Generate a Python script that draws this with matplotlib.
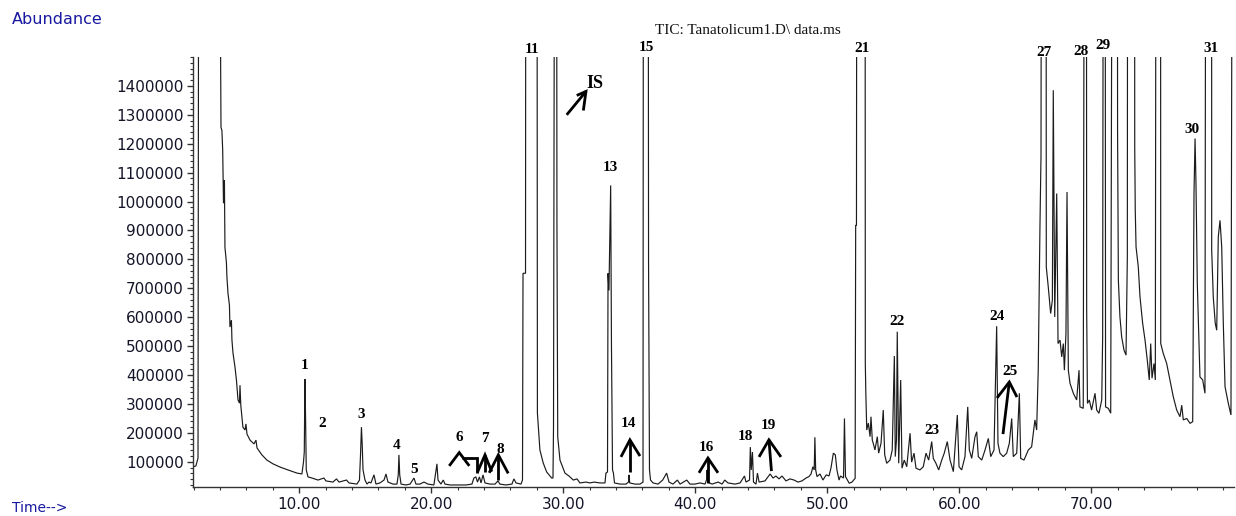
import matplotlib
matplotlib.use('Agg')
import matplotlib.pyplot as plt
from matplotlib.ticker import MultipleLocator, FixedLocator
import numpy as np

OFF = 3000  # off-scale peak top (thousands)

rt_min = [
    1.95, 2.17, 2.25, 2.33, 2.40, 3.95, 4.03, 4.07, 4.14, 4.20, 4.26, 4.33, 4.37, 4.48, 4.52, 4.60,
    4.71, 4.75, 4.86, 4.90, 4.98, 5.13, 5.24, 5.36, 5.47, 5.51, 5.57, 5.73, 5.89, 5.96, 6.04, 6.27,
    6.57, 6.72, 6.80, 7.17, 7.55, 8.01, 8.54, 9.14, 9.83, 10.20, 10.32, 10.38, 10.43, 10.48, 10.53,
    10.66, 10.96, 11.42, 11.87, 12.02, 12.55, 12.82, 13.01, 13.58, 13.77, 14.37, 14.56, 14.64, 14.71,
    14.77, 14.83, 14.98, 15.13, 15.28, 15.43, 15.66, 15.81, 16.11, 16.42, 16.57, 16.72, 17.10, 17.40,
    17.50, 17.55, 17.61, 17.71, 18.09, 18.39, 18.69, 18.84, 19.14, 19.45, 19.75, 20.20, 20.36, 20.43,
    20.51, 20.73, 20.91, 21.04, 21.42, 22.02, 22.63, 23.08, 23.23, 23.38, 23.50, 23.65, 23.77, 23.92,
    24.07, 24.45, 24.83, 25.05, 25.20, 25.66, 26.11, 26.26, 26.42, 26.80, 26.91, 26.95, 27.14, 27.17,
    28.00, 28.04, 28.23, 28.48, 28.74, 29.12, 29.22, 29.26, 29.37, 29.48, 29.52, 29.58, 29.75, 30.13,
    30.43, 30.76, 31.04, 31.26, 31.72, 32.02, 32.33, 32.78, 33.16, 33.23, 33.35, 33.39, 33.46, 33.59,
    33.65, 33.73, 33.80, 33.88, 34.30, 34.75, 34.94, 34.98, 35.03, 35.43, 35.81, 36.04, 36.08, 36.42,
    36.46, 36.53, 36.61, 36.80, 37.18, 37.53, 37.83, 38.01, 38.31, 38.64, 38.85, 39.35, 39.60, 39.98,
    40.36, 40.74, 40.85, 40.89, 40.94, 41.27, 41.73, 42.03, 42.23, 42.48, 43.01, 43.39, 43.73, 43.84,
    44.11, 44.17, 44.24, 44.33, 44.41, 44.60, 44.71, 44.83, 45.28, 45.67, 45.89, 46.11, 46.34, 46.57,
    46.87, 47.17, 47.48, 47.78, 48.08, 48.39, 48.61, 48.77, 48.91, 49.01, 49.06, 49.12, 49.22, 49.45,
    49.67, 49.92, 50.13, 50.28, 50.46, 50.61, 50.73, 50.89, 51.00, 51.23, 51.30, 51.38, 51.66, 51.87,
    52.11, 52.15, 52.21, 52.25, 52.86, 52.88, 52.92, 52.99, 53.11, 53.24, 53.31, 53.41, 53.48, 53.61,
    53.79, 53.89, 54.07, 54.24, 54.35, 54.50, 54.75, 54.92, 55.08, 55.15, 55.24, 55.30, 55.41, 55.56,
    55.66, 55.83, 56.02, 56.27, 56.39, 56.57, 56.72, 57.02, 57.27, 57.48, 57.68, 57.91, 58.03, 58.23,
    58.44, 58.67, 58.86, 59.09, 59.30, 59.55, 59.85, 59.98, 60.18, 60.43, 60.64, 60.76, 60.94, 61.19,
    61.32, 61.44, 61.70, 61.95, 62.20, 62.38, 62.63, 62.83, 62.93, 63.08, 63.33, 63.59, 63.79, 63.97,
    64.09, 64.35, 64.55, 64.65, 64.90, 65.23, 65.48, 65.73, 65.86, 65.98, 66.11, 66.19, 66.24, 66.57,
    66.59, 66.74, 66.92, 67.05, 67.12, 67.23, 67.38, 67.48, 67.63, 67.76, 67.88, 67.96, 68.08, 68.16,
    68.26, 68.39, 68.64, 68.89, 69.07, 69.14, 69.39, 69.50, 69.62, 69.65, 69.71, 69.85, 70.02, 70.28,
    70.41, 70.58, 70.79, 70.86, 70.93, 71.04, 71.08, 71.29, 71.47, 71.62, 71.97, 71.99, 72.05, 72.17,
    72.30, 72.48, 72.63, 72.73, 72.76, 73.27, 73.29, 73.33, 73.39, 73.56, 73.69, 73.89, 74.07, 74.24,
    74.39, 74.50, 74.60, 74.75, 74.85, 74.92, 75.24, 75.26, 75.45, 75.71, 75.96, 76.21, 76.47, 76.72,
    76.85, 76.97, 77.23, 77.48, 77.68, 77.78, 77.86, 77.93, 78.03, 78.14, 78.23, 78.44, 78.61, 78.69,
    79.11, 79.12, 79.24, 79.39, 79.50, 79.62, 79.75, 79.88, 80.00, 80.13, 80.38, 80.58, 80.71, 80.81,
]

abundance_k = [
    82, 86, 99, 113, OFF, OFF, 1600, 1257, 1246, 1177, 994, 1073, 842, 790, 739, 683,
    642, 566, 590, 521, 476, 428, 383, 314, 303, 365, 296, 220, 210, 231, 196, 175,
    162, 175, 148, 124, 106, 93, 82, 72, 61, 58, 99, 134, 386, 245, 72,
    48, 44, 37, 44, 34, 30, 41, 30, 37, 27, 23, 37, 124, 220,
    158, 72, 37, 23, 30, 27, 55, 23, 27, 37, 58, 30, 23, 23,
    55, 124, 55, 23, 20, 23, 44, 23, 23, 30, 23, 20, 72, 93,
    37, 23, 37, 23, 20, 20, 20, 23, 44, 48, 30, 48, 27, 55,
    27, 23, 23, 34, 23, 20, 23, 41, 27, 23, 37, 752, 752, OFF,
    OFF, 269, 141, 96, 65, 44, 44, 220, OFF, OFF, 928, 186, 106, 61,
    51, 37, 41, 27, 30, 27, 30, 27, 27, 61, 65, 752, 693, 1056,
    504, 72, 61, 27, 23, 23, 30, 55, 27, 23, 23, 30, OFF, OFF,
    790, 72, 37, 27, 23, 37, 61, 30, 23, 37, 23, 37, 23, 23,
    27, 23, 37, 72, 30, 23, 30, 23, 37, 27, 23, 27, 51, 30,
    37, 151, 72, 134, 30, 23, 61, 30, 34, 58, 44, 51, 41, 51,
    34, 41, 37, 30, 34, 44, 49, 58, 83, 72, 185, 72, 49, 58,
    37, 55, 51, 79, 130, 124, 72, 37, 51, 44, 250, 49, 26, 30,
    43, 918, 918, OFF, OFF, 440, 337, 210, 234, 187, 256, 175, 164, 141,
    187, 130, 164, 279, 124, 95, 106, 141, 466, 118, 175, 550, 95, 383,
    78, 106, 83, 199, 99, 130, 78, 72, 83, 130, 106, 170, 112, 95,
    72, 106, 130, 170, 106, 66, 262, 83, 72, 118, 290, 141, 112, 187,
    204, 118, 106, 141, 181, 118, 141, 569, 164, 130, 118, 130, 164, 250,
    118, 130, 337, 112, 106, 141, 152, 245, 210, 417, 912, 1160, OFF, OFF,
    774, 705, 613, 659, 1385, 601, 1028, 509, 521, 463, 509, 417, 544, 1033,
    417, 371, 337, 314, 417, 290, 285, OFF, OFF, 624, 302, 314, 279, 337,
    279, 268, 314, 532, OFF, OFF, 290, 285, 268, OFF, OFF, 1246, 728, 601,
    532, 486, 469, 809, OFF, OFF, 1189, 970, 843, 774, 670, 579, 521, 452,
    383, 509, 389, 440, 383, OFF, OFF, 509, 475, 440, 383, 325, 279, 256,
    296, 245, 250, 233, 239, 1028, 1218, 1062, 717, 544, 394, 383, 337, OFF,
    OFF, 832, 670, 579, 555, 878, 935, 843, 579, 360, 302, 262, OFF, OFF,
]

peak_labels = ['1', '2', '3', '4', '5', '6', '7', '8', '11', 'IS', '13', '14', '15', '16', '18',
               '19', '21', '22', '23', '24', '25', '27', '28', '29', '30', '31']
label_rt = [10.43, 11.74, 14.67, 17.38, 18.71, 22.12, 24.07, 25.20, 27.63, 32.40, 33.54, 34.90,
            36.27, 40.81, 43.80, 45.51, 52.63, 55.30, 57.91, 62.88, 63.84, 66.42, 69.22, 70.89,
            77.63, 79.07]
label_abund_k = [434, 233, 262, 155, 74, 184, 179, 144, 1526, 1409, 1118, 231, 1533, 151, 189,
                 227, 1529, 586, 208, 601, 414, 1516, 1519, 1540, 1250, 1529]

# hand-drawn arrow strokes (rt, abundance in thousands)
arrow_strokes = [
    [(30.26, 1300), (31.72, 1381)], [(31.02, 1367), (31.72, 1381), (31.52, 1315)],          # IS
    [(21.36, 86), (22.12, 132), (22.88, 86)], [(22.30, 112), (23.48, 112), (23.48, 60)],      # 6
    [(23.48, 62), (24.07, 124), (24.58, 66)], [(24.07, 124), (24.07, 66)],                    # 7
    [(24.39, 62), (25.08, 124), (25.83, 60)], [(25.08, 124), (25.08, 37)],                    # 8
    [(34.37, 117), (35.05, 176), (35.81, 120)], [(35.05, 176), (35.05, 65)],                  # 14
    [(40.28, 62), (40.96, 113), (41.72, 62)], [(40.96, 113), (40.96, 27)],                    # 16
    [(44.83, 117), (45.58, 176), (46.49, 117)], [(45.58, 176), (45.77, 68)],                  # 19
    [(62.86, 321), (63.79, 376), (64.37, 324)], [(63.79, 376), (63.31, 196)],                 # 25
]

fig = plt.figure(figsize=(12.36, 5.16), dpi=100)
ax = fig.add_axes([193 / 1236, 1 - 486.7 / 516, (1234 - 193) / 1236, (486.7 - 57) / 516])

ax.plot(rt_min, np.array(abundance_k) * 1000.0, color='#1c1c1c', lw=0.85, solid_joinstyle='miter')

for stroke in arrow_strokes:
    xs = [p[0] for p in stroke]
    ys = [p[1] * 1000.0 for p in stroke]
    ax.plot(xs, ys, color='black', lw=2.0, solid_capstyle='butt', solid_joinstyle='miter',
            clip_on=False)

for name, t, a in zip(peak_labels, label_rt, label_abund_k):
    size = 13 if name == 'IS' else 11
    ax.text(t, a * 1000.0, name, ha='center', va='center', fontsize=size,
            family='Liberation Serif', fontweight='bold', color='black', clip_on=False)

ax.set_xlim(1.95, 80.81)
ax.set_ylim(14000, 1.5e6)

ax.xaxis.set_major_locator(FixedLocator([10, 20, 30, 40, 50, 60, 70]))
ax.xaxis.set_minor_locator(MultipleLocator(2))
ax.set_xticklabels(['10.00', '20.00', '30.00', '40.00', '50.00', '60.00', '70.00'])
yt = list(range(100000, 1400001, 100000))
ax.yaxis.set_major_locator(FixedLocator(yt))
ax.yaxis.set_minor_locator(MultipleLocator(20000))
ax.set_yticklabels([str(v) for v in yt])

for sp in ['top', 'right']:
    ax.spines[sp].set_visible(False)
for sp in ['left', 'bottom']:
    ax.spines[sp].set_color('#333333')
    ax.spines[sp].set_linewidth(1.0)

ax.tick_params(axis='both', which='major', direction='out', length=4.5, width=1.0, color='#333333',
               labelsize=11, labelcolor='#141428')
ax.tick_params(axis='both', which='minor', direction='out', length=2.5, width=0.8, color='#333333')
ax.tick_params(axis='y', which='major', pad=2)
ax.tick_params(axis='x', which='major', pad=3)
for lab in ax.get_xticklabels() + ax.get_yticklabels():
    lab.set_family('DejaVu Sans')

fig.text(748 / 1236, 1 - 31 / 516, 'TIC: Tanatolicum1.D\\ data.ms', ha='center', va='center',
         fontsize=11, family='Liberation Serif', color='#111111')
fig.text(12 / 1236, 1 - 20 / 516, 'Abundance', ha='left', va='center', fontsize=11.5,
         family='DejaVu Sans', color='#1818a0')
fig.text(12 / 1236, 1.5 / 516, 'Time-->', ha='left', va='bottom', fontsize=10,
         family='DejaVu Sans', color='#1818a0')

fig.savefig('out.png', dpi=100)
